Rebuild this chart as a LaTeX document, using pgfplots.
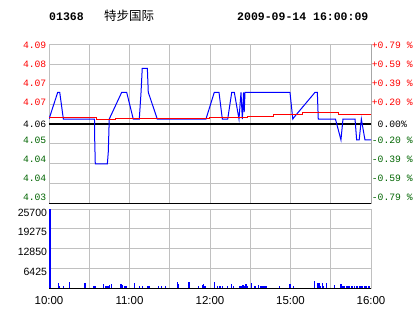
\documentclass[border=0pt]{standalone}
\usepackage{pgfplots}
\pgfplotsset{compat=1.18}
\usepackage{fontspec}
\setmainfont{Liberation Sans}
\setmonofont{Liberation Mono}
\newfontfamily\cjk{Noto Sans CJK SC}
\definecolor{gridc}{RGB}{192,192,192}
\definecolor{dgreen}{RGB}{0,100,0}
\pgfplotstableread{
t vol
0.8 25700
6.9 1840
7.5 860
10.7 750
15.1 2050
26.8 1730
33.0 750
33.8 750
34.6 750
40.5 1400
42.5 750
43.2 750
44.0 750
44.9 1080
46.7 1400
53.7 1400
54.9 1080
56.6 750
57.2 750
57.9 750
63.6 1730
67.3 750
69.5 750
73.3 750
74.0 750
74.8 750
81.5 750
84.0 750
87.0 750
95.6 2050
96.4 1510
104.3 2050
111.3 750
114.3 1080
115.3 1400
116.3 750
123.2 2050
125.7 860
127.5 750
129.5 750
133.2 860
136.2 1400
137.4 860
141.8 860
142.5 860
143.1 860
144.6 1080
145.6 860
146.8 1510
148.1 860
151.1 1730
153.5 860
156.0 1080
158.0 750
159.5 750
161.0 750
162.3 750
171.7 750
179.6 1400
182.1 750
197.7 2380
200.0 1730
201.2 1730
202.0 860
203.7 1730
204.4 860
207.0 1730
212.6 1080
217.6 1400
219.1 860
220.5 750
221.7 750
222.9 750
224.1 750
225.3 750
226.5 860
227.7 750
228.9 750
230.1 860
231.3 750
232.5 750
233.7 750
235.5 750
236.7 750
237.9 860
239.1 750
}\voltable
\begin{document}
\begin{tikzpicture}
\path[use as bounding box] (0pt,0pt) rectangle (414pt,314pt);
\node[anchor=west, inner sep=0pt, font=\ttfamily\bfseries\fontsize{11.5}{12}\selectfont] at (49pt,297.5pt) {01368};
\node[anchor=west, inner sep=0pt, font=\cjk\fontsize{12.5}{13}\selectfont] at (104pt,298.5pt) {特步国际};
\node[anchor=west, inner sep=0pt, font=\ttfamily\bfseries\fontsize{11.5}{12}\selectfont] at (237pt,297.5pt) {2009-09-14 16:00:09};

% main price panel
\begin{axis}[at={(49pt,110.25pt)}, anchor=south west, width=322pt, height=159.5pt, scale only axis,
  xmin=0, xmax=240, ymin=-0.79, ymax=0.79,
  xtick={30,60,...,210}, xticklabels={}, xmajorgrids,
  minor ytick={-0.5925,-0.395,-0.1975,0.1975,0.395,0.5925}, yminorgrids,
  ytick={-0.725,-0.542,-0.352,-0.161,0,0.218,0.406,0.594,0.78},
  yticklabels={\textcolor{dgreen}{4.03},\textcolor{dgreen}{4.04},\textcolor{dgreen}{4.04},\textcolor{dgreen}{4.05},\textcolor{black}{4.06},\textcolor{red}{4.07},\textcolor{red}{4.07},\textcolor{red}{4.08},\textcolor{red}{4.09}},
  major tick length=0pt, minor tick length=0pt,
  axis line style={gridc, line width=1pt},
  grid style={gridc, line width=1pt}, minor grid style={gridc, line width=1pt},
  tick label style={font=\ttfamily\fontsize{9.7}{10}\selectfont},
  yticklabel style={inner sep=0pt, xshift=-2.5pt},
]
\addplot[black, line width=1pt] coordinates {(0,0) (240,0)};
\addplot[blue, line width=1pt] coordinates {
(0,0.049) (6.5,0.314) (8.0,0.314) (10.7,0.049) (33.9,0.049) (34.1,-0.175) (34.5,-0.396)
(43.5,-0.396) (44.2,-0.274) (44.9,0.049) (54.2,0.314) (57.9,0.314) (62.8,0.049)
(67.3,0.049) (68.6,0.314) (69.5,0.552) (73.3,0.552) (74.0,0.314) (80.7,0.049)
(117.0,0.049) (123.2,0.314) (126.7,0.314) (129.2,0.049) (133.2,0.049) (136.2,0.314)
(138.1,0.314) (141.6,0.049) (143.1,0.314) (144.1,0.049) (145.0,0.314) (145.5,0.119)
(146.1,0.314) (179.6,0.314) (181.7,0.049) (182.6,0.066) (198.3,0.314) (200.0,0.314)
(200.7,0.049) (213.5,0.049) (217.6,-0.158) (219.1,0.049) (228.1,0.049) (229.3,-0.158)
(231.2,-0.158) (232.8,0.049) (235.5,-0.158) (240,-0.158)};
\addplot[red, const plot, line width=1pt] coordinates {
(0,0.066) (35.5,0.049) (49.2,0.056) (119.3,0.066) (147.6,0.079) (167,0.096) (189.3,0.109) (215.4,0.096) (240,0.096)};
\draw[black, line width=1pt] (rel axis cs:0,0) -- (rel axis cs:1,0) -- (rel axis cs:1,1);
\end{axis}

% right labels
\begin{axis}[at={(49pt,110.25pt)}, anchor=south west, width=322pt, height=159.5pt, scale only axis,
  xmin=0, xmax=240, ymin=-0.79, ymax=0.79,
  axis x line=none, axis y line*=right,
  ytick={-0.725,-0.542,-0.352,-0.161,0,0.218,0.406,0.594,0.78},
  yticklabels={\textcolor{dgreen}{-0.79 \%},\textcolor{dgreen}{-0.59 \%},\textcolor{dgreen}{-0.39 \%},\textcolor{dgreen}{-0.20 \%},\textcolor{black}{\hphantom{+}0.00\%},\textcolor{red}{+0.20 \%},\textcolor{red}{+0.39 \%},\textcolor{red}{+0.59 \%},\textcolor{red}{+0.79 \%}},
  major tick length=0pt,
  axis line style={draw=none},
  tick label style={font=\ttfamily\fontsize{9.7}{10}\selectfont},
  yticklabel style={inner sep=0pt, xshift=0.7pt},
]
\end{axis}

% volume panel
\begin{axis}[at={(49pt,25.7pt)}, anchor=south west, width=322pt, height=79.3pt, scale only axis,
  xmin=0, xmax=240, ymin=0, ymax=25700, clip=false, axis on top=false,
  xtick={0,60,120,180,240}, xticklabels={10:00,11:00,12:00,15:00,16:00},
  minor xtick={30,90,150,210}, xmajorgrids, xminorgrids,
  ytick={6425,12850,19275,25700}, ymajorgrids,
  scaled y ticks=false,
  yticklabel style={/pgf/number format/fixed, /pgf/number format/1000 sep={}},
  major tick length=0pt, minor tick length=0pt,
  axis line style={gridc, line width=1pt},
  grid style={gridc, line width=1pt}, minor grid style={gridc, line width=1pt},
  tick label style={font=\fontsize{10.5}{11}\selectfont},
  xticklabel style={font=\fontsize{11.5}{12}\selectfont, yshift=-5pt},
  yticklabel style={inner sep=0pt, xshift=-1.8pt, yshift=-3.5pt},
  /pgf/number format/assume math mode=true,
]
\addplot[blue, ycomb, line width=1.2pt, no marks] table[x=t, y=vol] {\voltable};
\addplot[blue, line width=2pt, no marks] coordinates {(0.8,0) (0.8,25700)};
\draw[black, line width=1pt] (rel axis cs:0,0) -- (rel axis cs:1,0);
\end{axis}
\end{tikzpicture}
\end{document}
